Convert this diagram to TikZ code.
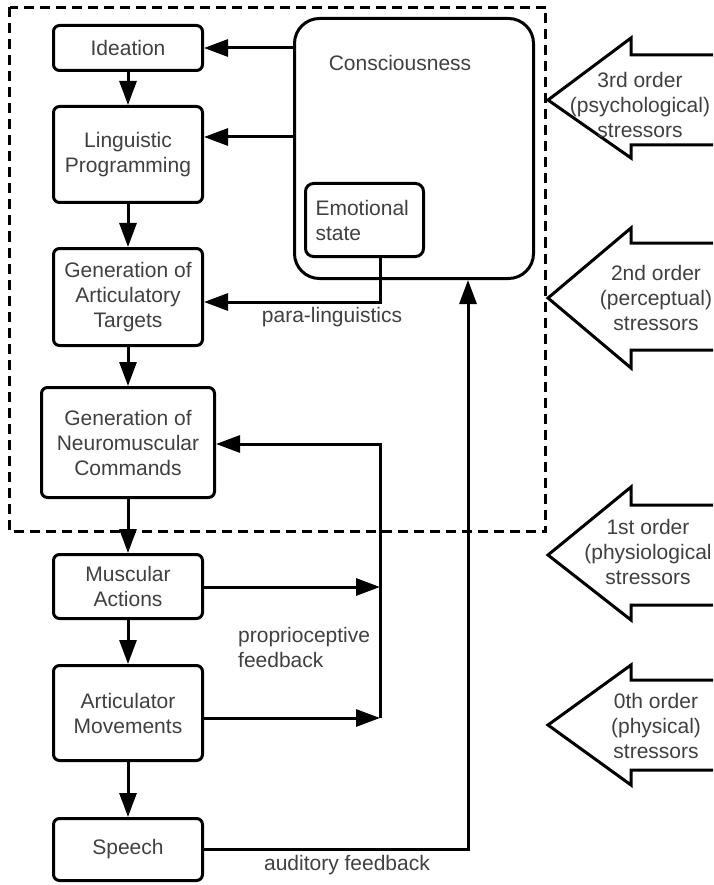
\documentclass[tikz,border=0pt]{standalone}
\usepackage{fontspec}
\setmainfont{Liberation Sans}
\usetikzlibrary{arrows.meta}
\begin{document}
\begin{tikzpicture}[x=1pt,y=-1pt,
  txt/.style={text=black!75, font=\fontsize{21}{25}\selectfont},
  box/.style={draw, line width=3pt, rounded corners=6pt, align=center, inner sep=0pt, txt, minimum width=149pt},
  conn/.style={line width=3pt},
  arr/.style={line width=3pt, -{Triangle[length=24pt,width=17pt]}},
  lbl/.style={txt, inner sep=0pt},
  stress/.style={line width=3pt, line join=miter},
]
\clip (0,0) rectangle (713,885);
\fill[white] (0,0) rectangle (713,885);

% dashed enclosure
\draw[line width=3pt, dash pattern=on 10pt off 6pt] (9.5,7.5) rectangle (545.5,531.5);

% main chain
\node[box, minimum height=45pt] (idea) at (128,48) {Ideation};
\node[box, minimum height=96pt] (lp) at (128,154.5) {Linguistic\\Programming};
\node[box, minimum height=97pt] (gat) at (128,297) {Generation of\\Articulatory\\Targets};
\node[box, minimum width=173pt, minimum height=110pt] (gnc) at (128,442.5) {Generation of\\Neuromuscular\\Commands};
\node[box, minimum height=64pt] (ma) at (128,586.5) {Muscular\\Actions};
\node[box, minimum height=95pt] (am) at (128,713) {Articulator\\Movements};
\node[box, minimum height=62pt] (sp) at (128,849.5) {Speech};

% consciousness
\node[draw, line width=3pt, rounded corners=25pt, minimum width=239pt, minimum height=260pt] (cons) at (414,148.5) {};
\node[lbl] (constxt) at (400,63) {Consciousness};
\node[draw, line width=3pt, rounded corners=8pt, minimum width=118pt, minimum height=73pt, text width=98pt, align=left, inner sep=0pt, txt] (emo) at (364.5,220) {Emotional\\state};

% vertical arrows
\draw[arr] (idea) -- (lp);
\draw[arr] (lp) -- (gat);
\draw[arr] (gat) -- (gnc);
\draw[arr] (gnc) -- (ma);
\draw[arr] (ma) -- (am);
\draw[arr] (am) -- (sp);

% consciousness to ideation / LP
\draw[arr] (cons.west |- idea.east) -- (idea.east);
\draw[arr] (cons.west |- 0,137) -- (lp.east |- 0,137);

% para-linguistics
\coordinate (pl) at (380,302);
\draw[arr] (emo.south -| pl) -- (pl) -- (gat.east |- pl);
\node[lbl] (pltxt) at (332,317) {para-linguistics};

% proprioceptive feedback
\coordinate (pa) at (380,587);
\coordinate (pb) at (380,718);
\coordinate (pc) at (380,444);
\draw[arr] (ma.east |- pa) -- (pa);
\draw[arr] (am.east |- pb) -- (pb);
\draw[arr] (pb) -- (pc) -- (gnc.east |- pc);
\node[lbl, align=left, anchor=west] (prtxt) at (238,647) {proprioceptive\\feedback};

% auditory feedback
\coordinate (af) at (468,849.5);
\draw[arr] (sp.east) -- (af) -- (cons.south -| af);
\node[lbl] (aftxt) at (347,865) {auditory feedback};

% stressor arrows
\draw[stress] (720,55) -- (631,55) -- (631,38) -- (548,100) -- (631,158) -- (631,145) -- (720,145);
\node[lbl, align=center] (s3) at (640,105) {3rd order\\(psychological)\\stressors};

\draw[stress] (720,243) -- (631,243) -- (631,228) -- (548,298) -- (631,368) -- (631,350) -- (720,350);
\node[lbl, align=center] (s2) at (656,298) {2nd order\\(perceptual)\\stressors};

\draw[stress] (720,505) -- (631,505) -- (631,487) -- (548,555) -- (631,620) -- (631,605) -- (720,605);
\node[lbl, align=center] (s1) at (648,552) {1st order\\(physiological\\stressors};

\draw[stress] (720,680) -- (631,680) -- (631,665) -- (548,725) -- (631,785) -- (631,770) -- (720,770);
\node[lbl, align=center] (s0) at (656,726) {0th order\\(physical)\\stressors};
\end{tikzpicture}
\end{document}
